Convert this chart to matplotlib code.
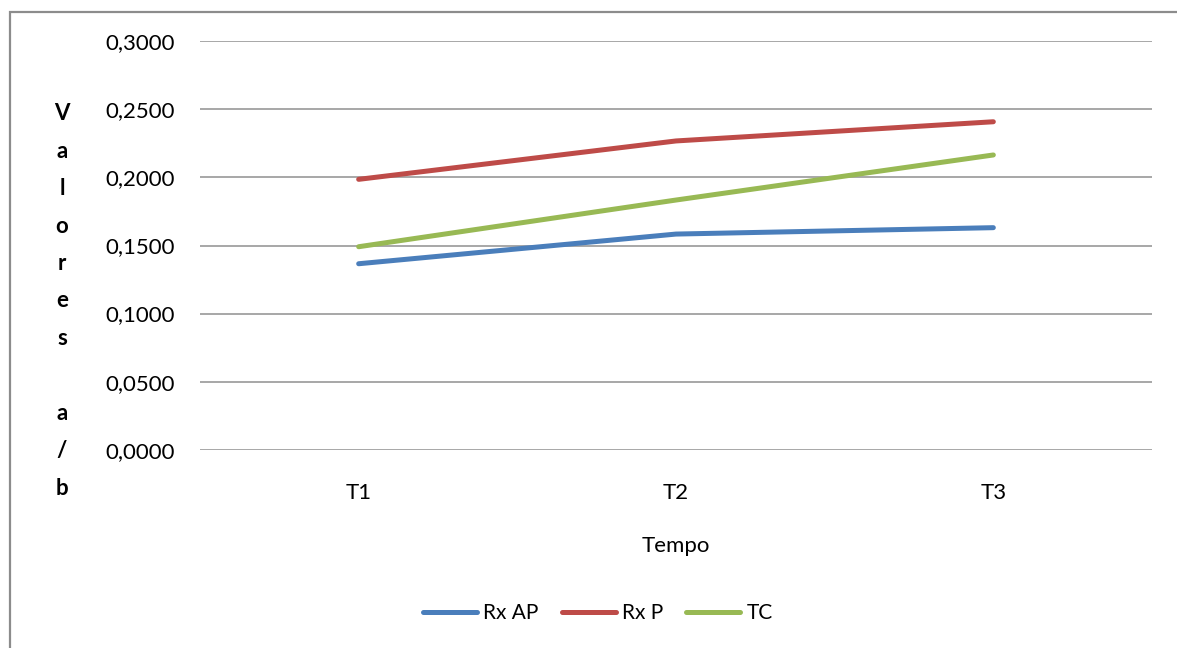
import matplotlib
matplotlib.use("Agg")
import matplotlib.pyplot as plt
from matplotlib.patches import Rectangle
from matplotlib.ticker import FuncFormatter

# Dados
tempos = ["T1", "T2", "T3"]
rx_ap = [0.1366, 0.1584, 0.1631]
rx_p = [0.1986, 0.2268, 0.2409]
tc = [0.1491, 0.1834, 0.2165]

plt.rcParams["font.family"] = ["Lato", "DejaVu Sans"]

W, H = 1177, 648
fig = plt.figure(figsize=(W / 100, H / 100), dpi=100)
fig.patch.set_facecolor("white")

# moldura cinza do gráfico
fig.patches.append(Rectangle((10 / W, -0.1), 1.2, (H - 12) / H + 0.1,
                             transform=fig.transFigure, fill=False,
                             edgecolor="#8c8c8c", linewidth=1.6))

ax = fig.add_axes([200 / W, (H - 449.7) / H, 952 / W, 408.4 / H])

x = range(len(tempos))
ax.plot(x, rx_ap, color="#4a7ebb", lw=3.6, solid_capstyle="round", label="Rx AP")
ax.plot(x, rx_p, color="#be4b48", lw=3.6, solid_capstyle="round", label="Rx P")
ax.plot(x, tc, color="#98b954", lw=3.6, solid_capstyle="round", label="TC")

ax.set_xlim(-0.5, 2.5)
ax.set_ylim(0, 0.3)
ax.set_yticks([0, 0.05, 0.1, 0.15, 0.2, 0.25, 0.3])
ax.yaxis.set_major_formatter(FuncFormatter(lambda v, p: f"{v:.4f}".replace(".", ",")))
ax.set_xticks(list(x))
ax.set_xticklabels(tempos)

ax.grid(axis="y", color="#a0a0a0", lw=1.3)
ax.set_axisbelow(True)
for s in ax.spines.values():
    s.set_visible(False)
ax.tick_params(length=0, labelsize=16, colors="#000000")
ax.tick_params(axis="y", pad=18)
ax.tick_params(axis="x", pad=24)

ax.set_xlabel("Tempo", fontsize=16, labelpad=24)

# rótulo vertical empilhado
fig.text(62 / W, 1 - 301 / H, "\n".join("Valores a/b").replace(" ", ""),
         ha="center", va="center", fontsize=16, fontweight="bold",
         linespacing=1.97)

leg = fig.legend(loc="center", bbox_to_anchor=(598 / W, 1 - 613 / H), ncol=3,
                 frameon=False, fontsize=15, handlelength=2.6,
                 handletextpad=0.3, columnspacing=1.1)

fig.savefig("out.png", dpi=100)
